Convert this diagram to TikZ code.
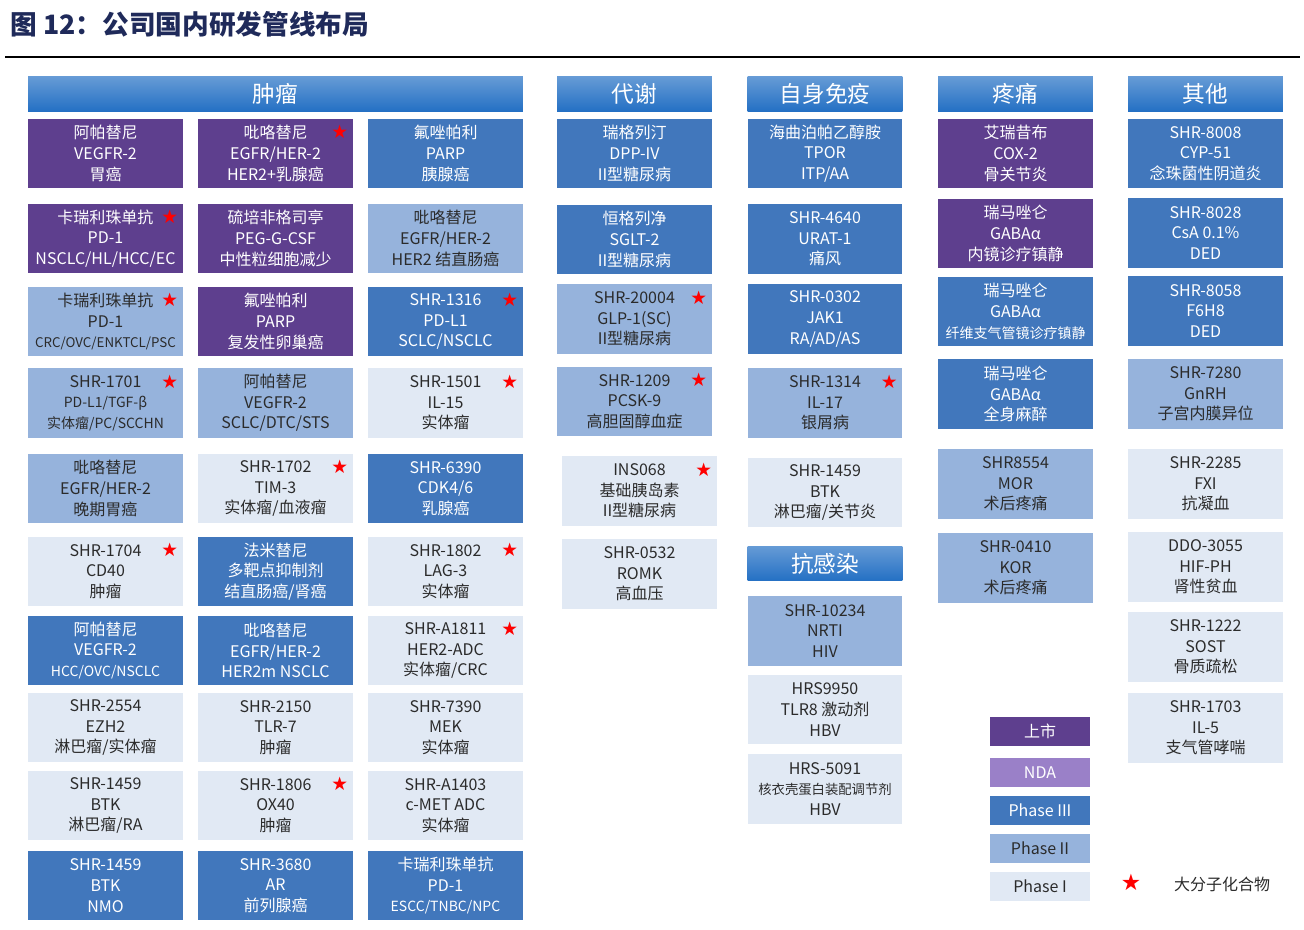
\documentclass[tikz,border=0pt]{standalone}
\usepackage{fontspec}
\newfontfamily\cjk{Noto Sans CJK SC}
\newfontfamily\symf{DejaVu Sans}
\definecolor{cshi}{HTML}{5E3F8E}
\definecolor{cnda}{HTML}{9A80C8}
\definecolor{cpthree}{HTML}{4177BC}
\definecolor{cptwo}{HTML}{96B3DC}
\definecolor{cpone}{HTML}{E1E9F4}
\definecolor{chead}{HTML}{2470C4}
\definecolor{ctitle}{HTML}{1F2A5A}
\definecolor{ctext}{HTML}{2B2B2B}
\tikzset{
  box/.style={minimum width=116pt,minimum height=52pt,inner sep=1pt,align=center,
    font=\cjk\fontsize{12}{15.5}\selectfont},
  shi/.style={box,fill=cshi,text=white},
  nda/.style={box,fill=cnda,text=white},
  pthree/.style={box,fill=cpthree,text=white},
  ptwo/.style={box,fill=cptwo,text=ctext},
  pone/.style={box,fill=cpone,text=ctext},
  head/.style={top color=chead!70!white,bottom color=chead,text=white,minimum height=26pt,
    inner sep=0pt,font=\cjk\fontsize{17}{20}\selectfont},
  legbox/.style={minimum width=75pt,minimum height=22pt,inner sep=0pt,
    font=\cjk\fontsize{12}{14}\selectfont},
  starmark/.style={text=red,inner sep=0pt,font=\symf\fontsize{14}{14}\selectfont}
}
\newcommand\drug[5]{\node[#4] (#1) at (#2,#3) {#5};}
\newcommand\redstar[1]{\node[starmark] (#1s) at ([xshift=-10pt,yshift=-10pt]#1.north east) {★};}
\begin{document}
\begin{tikzpicture}[x=0.75pt,y=-0.75pt]
\useasboundingbox[fill=white] (0,0) rectangle (1304,930);
\node[anchor=west,text=ctitle,font=\cjk\bfseries\fontsize{20}{22}\selectfont] (title) at (6,24) {图 12：公司国内研发管线布局};
\draw[line width=1.5pt] (5,57) -- (1300,57);
% headers
\node[head,minimum width=371pt] (hzl) at (275.5,94) {肿瘤};
\node[head,minimum width=116pt] (hdx) at (634.5,94) {代谢};
\node[head,minimum width=116pt] (hzm) at (825,94) {自身免疫};
\node[head,minimum width=116pt] (htt) at (1015.5,94) {疼痛};
\node[head,minimum width=116pt] (hqt) at (1205.5,94) {其他};
\node[head,minimum width=116pt] (hgr) at (825,563.5) {抗感染};
% tumour, column 1
\drug{a1}{105.5}{153.5}{shi}{阿帕替尼\\VEGFR-2\\胃癌}
\drug{a2}{105.5}{238.5}{shi}{卡瑞利珠单抗\\PD-1\\NSCLC/HL/HCC/EC}\redstar{a2}
\drug{a3}{105.5}{321.5}{ptwo}{卡瑞利珠单抗\\PD-1\\{\fontsize{10}{13}\selectfont CRC/OVC/ENKTCL/PSC}}\redstar{a3}
\drug{a4}{105.5}{403}{ptwo}{SHR-1701\\{\fontsize{10.5}{13}\selectfont PD-L1/TGF-β}\\{\fontsize{10.5}{13}\selectfont 实体瘤/PC/SCCHN}}\redstar{a4}
\drug{a5}{105.5}{488.5}{ptwo}{吡咯替尼\\EGFR/HER-2\\晚期胃癌}
\drug{a6}{105.5}{571.5}{pone}{SHR-1704\\CD40\\肿瘤}\redstar{a6}
\drug{a7}{105.5}{650.5}{pthree}{阿帕替尼\\VEGFR-2\\{\fontsize{10.5}{13}\selectfont HCC/OVC/NSCLC}}
\drug{a8}{105.5}{727.5}{pone}{SHR-2554\\EZH2\\淋巴瘤/实体瘤}
\drug{a9}{105.5}{805.5}{pone}{SHR-1459\\BTK\\淋巴瘤/RA}
\drug{a10}{105.5}{885.5}{pthree}{SHR-1459\\BTK\\NMO}
% tumour, column 2
\drug{b1}{275.5}{153.5}{shi}{吡咯替尼\\EGFR/HER-2\\HER2+乳腺癌}\redstar{b1}
\drug{b2}{275.5}{238.5}{shi}{硫培非格司亭\\PEG-G-CSF\\中性粒细胞减少}
\drug{b3}{275.5}{321.5}{shi}{氟唑帕利\\PARP\\复发性卵巢癌}
\drug{b4}{275.5}{403}{ptwo}{阿帕替尼\\VEGFR-2\\SCLC/DTC/STS}
\drug{b5}{275.5}{488.5}{pone}{SHR-1702\\TIM-3\\实体瘤/血液瘤}\redstar{b5}
\drug{b6}{275.5}{571.5}{pthree}{法米替尼\\多靶点抑制剂\\结直肠癌/肾癌}
\drug{b7}{275.5}{650.5}{pthree}{吡咯替尼\\EGFR/HER-2\\HER2m NSCLC}
\drug{b8}{275.5}{727.5}{pone}{SHR-2150\\TLR-7\\肿瘤}
\drug{b9}{275.5}{805.5}{pone}{SHR-1806\\OX40\\肿瘤}\redstar{b9}
\drug{b10}{275.5}{885.5}{pthree}{SHR-3680\\AR\\前列腺癌}
% tumour, column 3
\drug{c1}{445.5}{153.5}{pthree}{氟唑帕利\\PARP\\胰腺癌}
\drug{c2}{445.5}{238.5}{ptwo}{吡咯替尼\\EGFR/HER-2\\HER2 结直肠癌}
\drug{c3}{445.5}{321.5}{pthree}{SHR-1316\\PD-L1\\SCLC/NSCLC}\redstar{c3}
\drug{c4}{445.5}{403}{pone}{SHR-1501\\IL-15\\实体瘤}\redstar{c4}
\drug{c5}{445.5}{488.5}{pthree}{SHR-6390\\CDK4/6\\乳腺癌}
\drug{c6}{445.5}{571.5}{pone}{SHR-1802\\LAG-3\\实体瘤}\redstar{c6}
\drug{c7}{445.5}{650.5}{pone}{SHR-A1811\\HER2-ADC\\实体瘤/CRC}\redstar{c7}
\drug{c8}{445.5}{727.5}{pone}{SHR-7390\\MEK\\实体瘤}
\drug{c9}{445.5}{805.5}{pone}{SHR-A1403\\c-MET ADC\\实体瘤}
\drug{c10}{445.5}{885.5}{pthree}{卡瑞利珠单抗\\PD-1\\{\fontsize{10.5}{13}\selectfont ESCC/TNBC/NPC}}
% metabolism
\drug{d1}{634.5}{153.5}{pthree}{瑞格列汀\\DPP-IV\\II型糖尿病}
\drug{d2}{634.5}{239.5}{pthree}{恒格列净\\SGLT-2\\II型糖尿病}
\drug{d3}{634.5}{319}{ptwo}{SHR-20004\\GLP-1(SC)\\II型糖尿病}\redstar{d3}
\drug{d4}{634.5}{401.5}{ptwo}{SHR-1209\\PCSK-9\\高胆固醇血症}\redstar{d4}
\drug{d5}{639.5}{491}{pone}{INS068\\基础胰岛素\\II型糖尿病}\redstar{d5}
\drug{d6}{639.5}{574}{pone}{SHR-0532\\ROMK\\高血压}
% autoimmune
\drug{e1}{825}{153.5}{pthree}{海曲泊帕乙醇胺\\TPOR\\ITP/AA}
\drug{e2}{825}{239}{pthree}{SHR-4640\\URAT-1\\痛风}
\drug{e3}{825}{319}{pthree}{SHR-0302\\JAK1\\RA/AD/AS}
\drug{e4}{825}{403}{ptwo}{SHR-1314\\IL-17\\银屑病}\redstar{e4}
\drug{e5}{825}{492.5}{pone}{SHR-1459\\BTK\\淋巴瘤/关节炎}
% anti-infection
\drug{f1}{825}{631}{ptwo}{SHR-10234\\NRTI\\HIV}
\drug{f2}{825}{709.5}{pone}{HRS9950\\TLR8 激动剂\\HBV}
\drug{f3}{825}{789}{pone}{HRS-5091\\{\fontsize{10}{13}\selectfont 核衣壳蛋白装配调节剂}\\HBV}
% pain
\drug{g1}{1015.5}{153.5}{shi}{艾瑞昔布\\COX-2\\骨关节炎}
\drug{g2}{1015.5}{233.5}{shi}{瑞马唑仑\\GABAα\\内镜诊疗镇静}
\drug{g3}{1015.5}{311.5}{pthree}{瑞马唑仑\\GABAα\\{\fontsize{10.5}{13}\selectfont 纤维支气管镜诊疗镇静}}
\drug{g4}{1015.5}{394}{pthree}{瑞马唑仑\\GABAα\\全身麻醉}
\drug{g5}{1015.5}{484}{ptwo}{SHR8554\\MOR\\术后疼痛}
\drug{g6}{1015.5}{568}{ptwo}{SHR-0410\\KOR\\术后疼痛}
% others
\drug{h1}{1205.5}{153.5}{pthree}{SHR-8008\\CYP-51\\念珠菌性阴道炎}
\drug{h2}{1205.5}{233}{pthree}{SHR-8028\\CsA 0.1\%\\DED}
\drug{h3}{1205.5}{311}{pthree}{SHR-8058\\F6H8\\DED}
\drug{h4}{1205.5}{394}{ptwo}{SHR-7280\\GnRH\\子宫内膜异位}
\drug{h5}{1205.5}{484}{pone}{SHR-2285\\FXI\\抗凝血}
\drug{h6}{1205.5}{567}{pone}{DDO-3055\\HIF-PH\\肾性贫血}
\drug{h7}{1205.5}{647}{pone}{SHR-1222\\SOST\\骨质疏松}
\drug{h8}{1205.5}{728}{pone}{SHR-1703\\IL-5\\支气管哮喘}
% legend
\node[legbox,fill=cshi,text=white] (lshi) at (1040,731.5) {上市};
\node[legbox,fill=cnda,text=white] (lnda) at (1040,772.5) {NDA};
\node[legbox,fill=cpthree,text=white] (lpthree) at (1040,810.5) {Phase III};
\node[legbox,fill=cptwo,text=ctext] (lptwo) at (1040,848.5) {Phase II};
\node[legbox,fill=cpone,text=ctext] (lpone) at (1040,886.5) {Phase I};
\node[starmark,font=\symf\fontsize{17}{17}\selectfont] (lstar) at (1131,882) {★};
\node[font=\cjk\fontsize{12}{14}\selectfont,text=ctext] (lstart) at (1222,884) {大分子化合物};
\end{tikzpicture}
\end{document}
